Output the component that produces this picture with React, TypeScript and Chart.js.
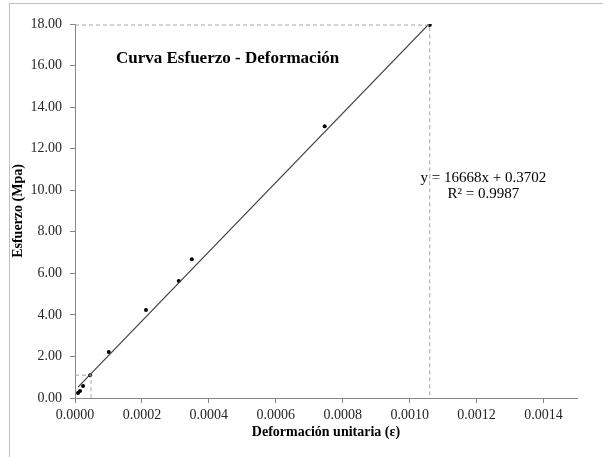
import React, { useEffect, useRef } from 'react';
import { Chart, registerables } from 'chart.js';

Chart.register(...registerables);

// Measured data: unit strain (ε) vs stress (MPa)
const strainValues = [0.000009, 0.000015, 0.000024, 0.000045, 0.000101, 0.000212, 0.00031, 0.000349, 0.000746, 0.00106];
const stressValues = [0.24, 0.34, 0.58, 1.1, 2.21, 4.23, 5.63, 6.68, 13.08, 17.95];

// Reference (dashed) markers: proportional limit and maximum point
const markerStrain = [0.000048, 0.00106];
const markerStress = [1.1, 17.95];

// Linear trendline reported on the chart
const trendSlope = 16668;
const trendIntercept = 0.3702;
const rSquared = 0.9987;

// Axis ticks
const xTickValues = [0, 0.0002, 0.0004, 0.0006, 0.0008, 0.001, 0.0012, 0.0014];
const yTickValues = [0, 2, 4, 6, 8, 10, 12, 14, 16, 18];
const xMax = 0.0015;
const yMax = 18;

const chartTitle = 'Curva Esfuerzo - Deformación';
const xTitle = 'Deformación unitaria (ε)';
const yTitle = 'Esfuerzo (Mpa)';

const SERIF = '"Liberation Serif", "Times New Roman", serif';

const framePlugin = {
  id: 'frame',
  beforeDraw(chart: any) {
    const { ctx, width, height } = chart;
    ctx.save();
    ctx.fillStyle = '#ffffff';
    ctx.fillRect(0, 0, width, height);
    ctx.strokeStyle = '#c0c0c0';
    ctx.lineWidth = 1;
    ctx.strokeRect(9.5, 3.5, width + 20, height + 20);
    ctx.restore();
  },
};

const textPlugin = {
  id: 'texts',
  afterDraw(chart: any) {
    const { ctx, chartArea } = chart;
    const xs = chart.scales.x;
    ctx.save();
    ctx.fillStyle = '#000000';
    // Chart title inside plot area
    ctx.font = `bold 17px ${SERIF}`;
    ctx.textAlign = 'left';
    ctx.textBaseline = 'alphabetic';
    ctx.fillText(chartTitle, chartArea.left + 41, 63);

    // Trendline equation
    ctx.font = `15px ${SERIF}`;
    ctx.textAlign = 'center';
    const eqX = xs.getPixelForValue(0.00122);
    ctx.fillText(`y = ${trendSlope}x + ${trendIntercept}`, eqX, 182);
    ctx.fillText(`R² = ${rSquared}`, eqX, 198);

    // Axis titles
    ctx.font = `bold 14px ${SERIF}`;
    ctx.textBaseline = 'middle';
    ctx.fillText(xTitle, (chartArea.left + chartArea.right) / 2, 432);
    ctx.save();
    ctx.translate(18, (chartArea.top + chartArea.bottom) / 2);
    ctx.rotate(-Math.PI / 2);
    ctx.fillText(yTitle, 0, 0);
    ctx.restore();
    ctx.restore();
  },
};

export default function App() {
  const ref = useRef<HTMLCanvasElement>(null);

  useEffect(() => {
    const points = strainValues.map((x, i) => ({ x, y: stressValues[i] }));
    const xMin = Math.min(...strainValues);
    const xMaxData = Math.max(...strainValues);
    const trend = [
      { x: xMin, y: trendSlope * xMin + trendIntercept },
      { x: xMaxData, y: trendSlope * xMaxData + trendIntercept },
    ];
    const markerSets = markerStrain.map((mx, i) => ({
      type: 'scatter' as const,
      data: [
        { x: 0, y: markerStress[i] },
        { x: mx, y: markerStress[i] },
        { x: mx, y: 0 },
      ],
      showLine: true,
      borderColor: '#a6a6a6',
      borderDash: [4, 3],
      borderWidth: 1,
      pointRadius: 0,
      fill: false,
    }));

    const chart = new Chart(ref.current as HTMLCanvasElement, {
      type: 'scatter',
      data: {
        datasets: [
          ...markerSets,
          {
            data: trend,
            showLine: true,
            borderColor: '#404040',
            borderWidth: 1.2,
            pointRadius: 0,
            fill: false,
          },
          {
            data: points,
            pointRadius: 2,
            pointBackgroundColor: '#000000',
            pointBorderWidth: 0,
            showLine: false,
          },
        ] as any,
      },
      options: {
        responsive: false,
        animation: false,
        devicePixelRatio: 1,
        layout: { padding: { left: 0, top: 24, right: 26, bottom: 0 } },
        plugins: {
          legend: { display: false },
          tooltip: { enabled: false },
          title: { display: false },
        },
        scales: {
          x: {
            type: 'linear',
            min: 0,
            max: xMax,
            afterFit: (s: any) => { s.height = 59; },
            afterBuildTicks: (s: any) => { s.ticks = xTickValues.map((value) => ({ value })); },
            ticks: {
              callback: (v: any) => Number(v).toFixed(4),
              color: '#262626',
              font: { family: SERIF, size: 14 },
              padding: 4,
              maxRotation: 0,
              autoSkip: false,
            },
            grid: { display: true, drawOnChartArea: false, drawTicks: true, tickLength: 5, color: '#868686' },
            border: { display: true, color: '#868686', width: 1 },
          },
          y: {
            type: 'linear',
            min: 0,
            max: yMax,
            afterFit: (s: any) => { s.width = 75; },
            afterBuildTicks: (s: any) => { s.ticks = yTickValues.map((value) => ({ value })); },
            ticks: {
              callback: (v: any) => Number(v).toFixed(2),
              color: '#262626',
              font: { family: SERIF, size: 14 },
              padding: 8,
              autoSkip: false,
            },
            grid: { display: true, drawOnChartArea: false, drawTicks: true, tickLength: 5, color: '#868686' },
            border: { display: true, color: '#868686', width: 1 },
          },
        },
      } as any,
      plugins: [framePlugin, textPlugin],
    });
    return () => chart.destroy();
  }, []);

  return (
    <div style={{ position: 'absolute', left: 0, top: 0, width: 603, height: 457 }}>
      <canvas ref={ref} width={603} height={457} style={{ display: 'block' }} />
    </div>
  );
}
